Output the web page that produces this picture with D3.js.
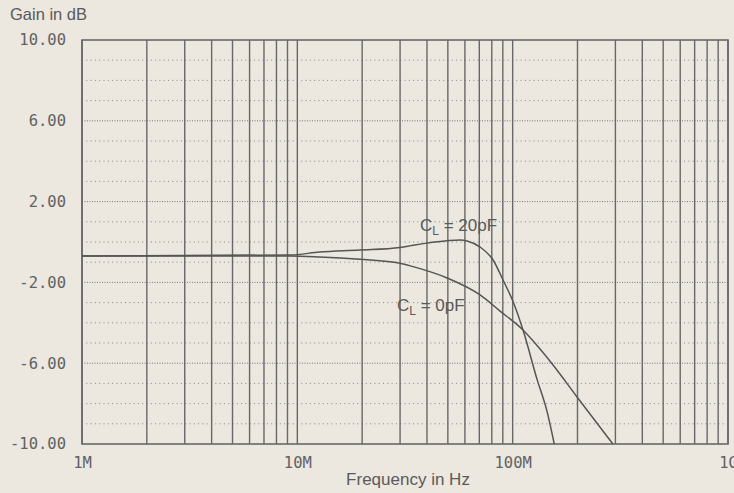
<!DOCTYPE html>
<html><head><meta charset="utf-8">
<script src="https://cdn.jsdelivr.net/npm/d3@7"></script>
<style>
html,body{margin:0;padding:0;background:#ece7df;}
svg{display:block;}
</style></head>
<body>
<svg id="c" width="734" height="493"></svg>
<script>
// ---- data ----
const yTickValues = [10, 6, 2, -2, -6, -10];
const yTickLabels = ["10.00", "6.00", "2.00", "-2.00", "-6.00", "-10.00"];
const xTickValues = [1e6, 1e7, 1e8, 1e9];
const xTickLabels = ["1M", "10M", "100M", "1G"];
const freq0 = [1e6, 9.25e6, 12.7e6, 19.5e6, 30e6, 34.5e6, 49.6e6, 70.6e6, 87.4e6, 111.7e6, 134e6, 154e6, 199e6, 292e6];
const gain0 = [-0.69, -0.69, -0.74, -0.86, -1.05, -1.22, -1.78, -2.62, -3.42, -4.36, -5.3, -6.09, -7.67, -10];
const freq20 = [1e6, 9.25e6, 12.7e6, 19.5e6, 30e6, 34.5e6, 49.6e6, 57e6, 61.4e6, 70.6e6, 81.1e6, 90.2e6, 100.4e6, 111.7e6, 129.8e6, 144.5e6, 156e6];
const gain20 = [-0.69, -0.64, -0.5, -0.4, -0.27, -0.16, 0.06, 0.1, 0.05, -0.25, -0.89, -1.88, -2.95, -4.36, -6.8, -8.4, -10];

// ---- layout ----
const L = 82, R = 728, T = 40, B = 444;
const svg = d3.select("#c");
const x = d3.scaleLog().domain([1e6, 1e9]).range([L, R]);
const y = d3.scaleLinear().domain([-10, 10]).range([B, T]);

// horizontal dotted grid every 1 dB
const hg = svg.append("g");
for (let v = -9; v <= 9; v++) {
  const major = yTickValues.includes(v);
  hg.append("line").attr("x1", L).attr("x2", R).attr("y1", y(v)).attr("y2", y(v))
    .attr("stroke", major ? "#777" : "#888").attr("stroke-width", 1)
    .attr("stroke-dasharray", major ? "1,1.5" : "1,3.3");
}

// vertical solid grid at 1..9 per decade
const vticks = [];
for (let d = 6; d < 9; d++) for (let m = 1; m <= 9; m++) vticks.push(m * Math.pow(10, d));
vticks.push(1e9);
svg.append("g").selectAll("line").data(vticks).join("line")
  .attr("x1", d => x(d)).attr("x2", d => x(d)).attr("y1", T).attr("y2", B)
  .attr("stroke", "#686868").attr("stroke-width", 1.4);

// border
svg.append("rect").attr("x", L).attr("y", T).attr("width", R - L).attr("height", B - T)
  .attr("fill", "none").attr("stroke", "#686868").attr("stroke-width", 1.6);

// axes labels via d3 axes (no domain/ticks lines)
const yAxis = d3.axisLeft(y).tickValues(yTickValues).tickSize(0).tickPadding(16)
  .tickFormat((d, i) => yTickLabels[i]);
const gy = svg.append("g").attr("transform", `translate(${L},0)`).call(yAxis);
const xAxis = d3.axisBottom(x).tickValues(xTickValues).tickSize(0).tickPadding(13)
  .tickFormat((d, i) => xTickLabels[i]);
const gx = svg.append("g").attr("transform", `translate(0,${B})`).call(xAxis);
[gy, gx].forEach(g => {
  g.select(".domain").remove();
  g.selectAll("text").attr("font-family", "DejaVu Sans Mono, monospace")
    .attr("font-size", 15.5).attr("fill", "#626262");
});

// curves
const line = d3.line().x(d => x(d[0])).y(d => y(d[1])).curve(d3.curveMonotoneX);
svg.append("path").datum(freq0.map((f, i) => [f, gain0[i]])).attr("d", line)
  .attr("fill", "none").attr("stroke", "#555").attr("stroke-width", 1.5);
svg.append("path").datum(freq20.map((f, i) => [f, gain20[i]])).attr("d", line)
  .attr("fill", "none").attr("stroke", "#555").attr("stroke-width", 1.5);

// curve labels
function capLabel(xp, yp, rest) {
  const t = svg.append("text").attr("x", xp).attr("y", yp)
    .attr("font-family", "Liberation Sans, Arial, sans-serif").attr("font-size", 17).attr("fill", "#595959");
  t.append("tspan").text("C");
  t.append("tspan").attr("dy", 4).attr("font-size", 12).text("L");
  t.append("tspan").attr("dy", -4).text(" = " + rest);
}
capLabel(420, 231, "20pF");
capLabel(397, 311, "0pF");

// axis titles
svg.append("text").attr("x", 10).attr("y", 19.5).text("Gain in dB")
  .attr("font-family", "Liberation Sans, Arial, sans-serif").attr("font-size", 16.5).attr("fill", "#5a5a5a");
svg.append("text").attr("x", 408).attr("y", 485).attr("text-anchor", "middle").text("Frequency in Hz")
  .attr("font-family", "Liberation Sans, Arial, sans-serif").attr("font-size", 17).attr("fill", "#5a5a5a");
</script>
</body></html>
